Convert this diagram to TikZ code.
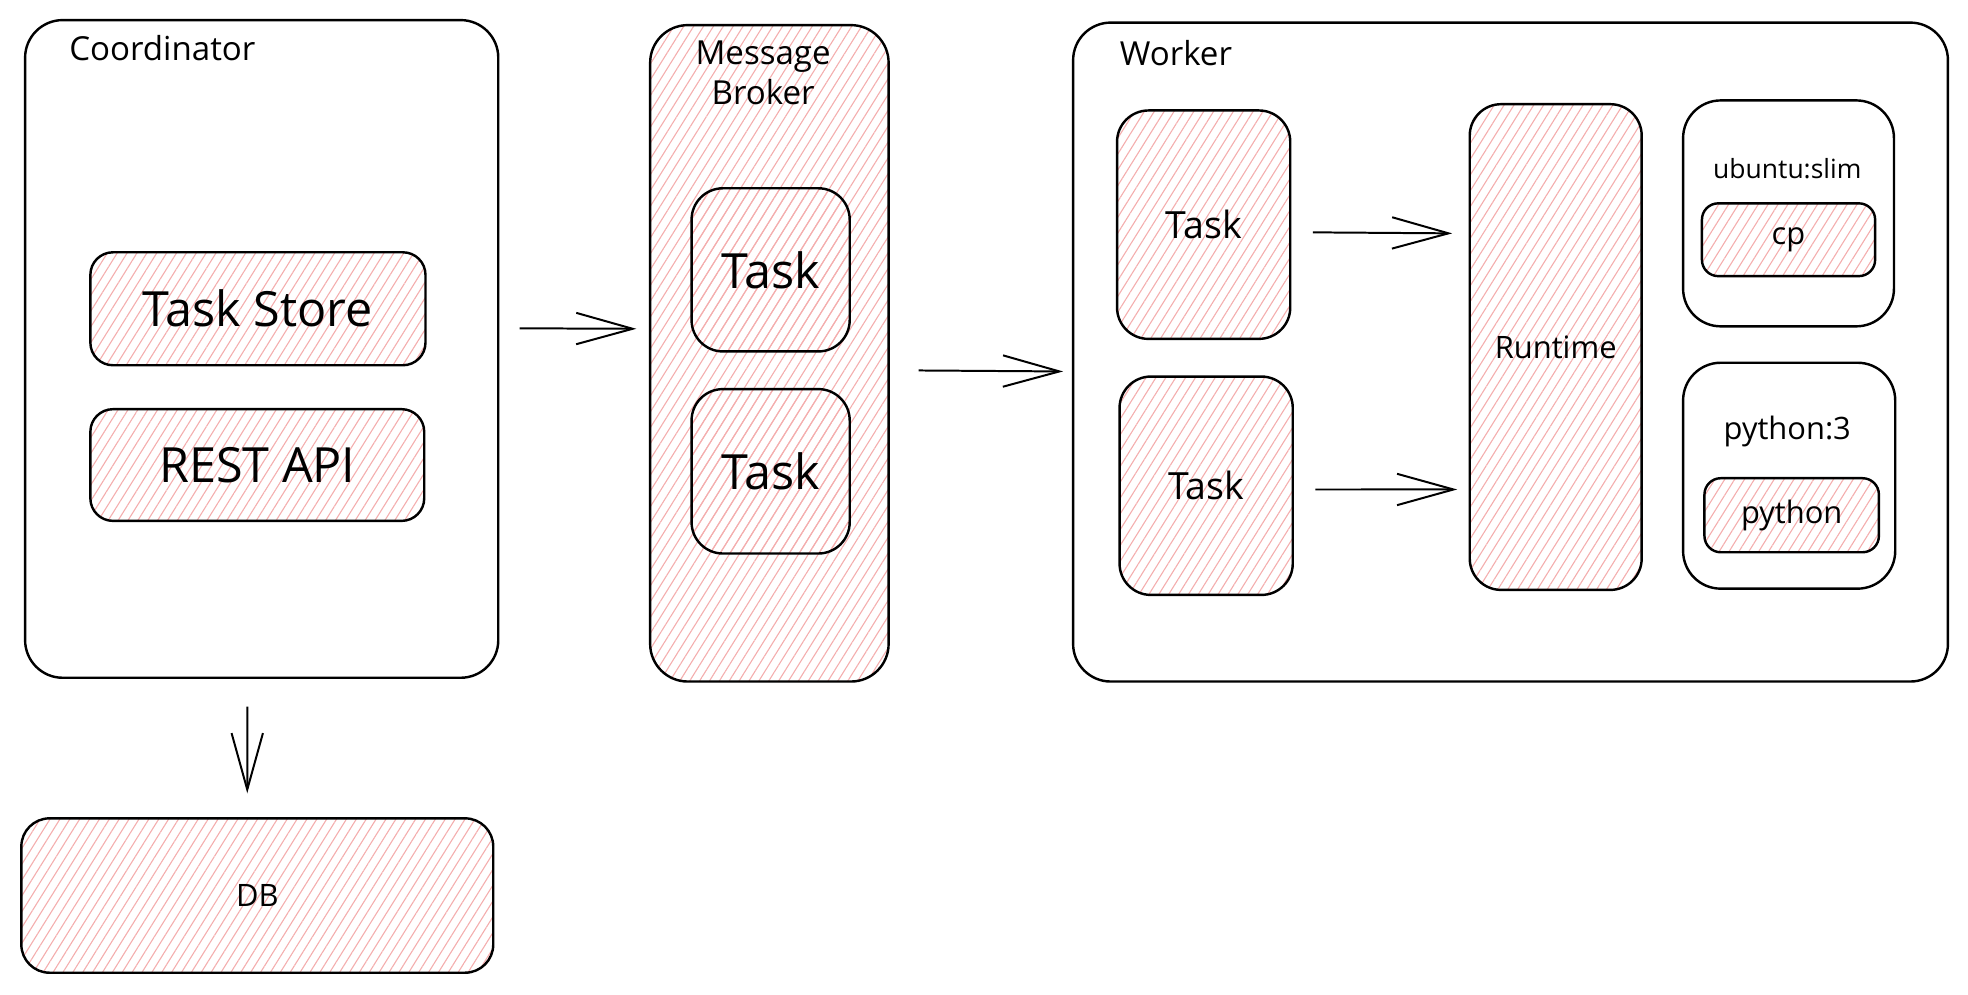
\documentclass[tikz,border=0pt]{standalone}
\usepackage{fontspec}
\setmainfont{Open Sans}
\usetikzlibrary{arrows.meta,fit,patterns.meta}

\definecolor{hatchred}{HTML}{F4AEAE}

\tikzset{
  box/.style={draw, line width=1.1pt, rounded corners=#1, inner sep=0pt},
  box/.default=0.6cm,
  hatched/.style={pattern={Lines[angle=58,distance=3.8pt,line width=0.5pt]}, pattern color=hatchred},
  flow/.style={line width=0.9pt, -{Straight Barb[length=0.9cm,width=0.5cm,line width=0.9pt]}},
  title/.style={font=\fontsize{15}{18}\selectfont},
  big/.style={font=\fontsize{22}{26}\selectfont},
  mid/.style={font=\fontsize{17}{20}\selectfont},
  small/.style={font=\fontsize{14}{17}\selectfont},
}

\begin{document}
\begin{tikzpicture}[x=0.02cm, y=-0.02cm]
  \useasboundingbox (0,0) rectangle (1568,792);

  % coordinator with its parts
  \node[box, fit={(20,16) (397,540)}] (coord) {};
  \node[title, anchor=west] (coordlbl) at (49,38) {Coordinator};
  \node[box=0.36cm, hatched, fit={(72,201) (339,291)}, label={[big]center:Task Store}] (store) {};
  \node[box=0.36cm, hatched, fit={(72,326) (338,415)}, label={[big]center:REST API}] (api) {};
  \node[box=0.45cm, hatched, fit={(17,652) (393,775)}, label={[small]center:DB}] (db) {};

  % message broker
  \node[box, hatched, fit={(518,20) (708,543)}] (broker) {};
  \node[title, align=center] (brokerlbl) at (608,58) {Message\\Broker};
  \node[box=0.5cm, hatched, fit={(551,150) (677,280)}, label={[big]center:Task}] (btask1) {};
  \node[box=0.5cm, hatched, fit={(551,310) (677,441)}, label={[big]center:Task}] (btask2) {};

  % worker
  \node[box, fit={(855,18) (1552,543)}] (worker) {};
  \node[title, anchor=west] (workerlbl) at (886,42) {Worker};
  \node[box=0.5cm, hatched, fit={(890,88) (1028,270)}, label={[mid]center:Task}] (wtask1) {};
  \node[box=0.5cm, hatched, fit={(892,300) (1030,474)}, label={[mid]center:Task}] (wtask2) {};
  \node[box=0.5cm, hatched, fit={(1171,83) (1308,470)}, label={[small]center:Runtime}] (runtime) {};
  \node[box, fit={(1341,80) (1509,260)}] (ubuntu) {};
  \node[font=\fontsize{12}{15}\selectfont] (ubuntulbl) at (1424,134) {ubuntu:slim};
  \node[box=0.26cm, hatched, fit={(1356,162) (1494,220)}, label={[small]center:cp}] (cp) {};
  \node[box, fit={(1341,289) (1510,469)}] (py) {};
  \node[small] (pylbl) at (1424,344) {python:3};
  \node[box=0.26cm, hatched, fit={(1358,381) (1497,440)}, label={[small]center:python}] (pyrun) {};

  % connectors
  \draw[flow, shorten <=0.32cm, shorten >=0.2cm] ([yshift=0.33cm]coord.east) -- ([yshift=0.39cm]broker.west);
  \draw[flow, shorten <=0.46cm, shorten >=0.14cm] ([yshift=-0.27cm]broker.east) -- ([yshift=-0.31cm]worker.west);
  \draw[flow, shorten <=0.34cm, shorten >=0.26cm] ([yshift=-0.12cm]wtask1.east) -- ([yshift=1.81cm]runtime.west);
  \draw[flow, shorten <=0.34cm, shorten >=0.18cm] ([yshift=-0.06cm]wtask2.east) -- ([yshift=-2.27cm]runtime.west);
  \draw[flow, shorten <=0.44cm, shorten >=0.38cm] ([xshift=-0.23cm]coord.south) -- ([xshift=-0.16cm]db.north);
\end{tikzpicture}
\end{document}
